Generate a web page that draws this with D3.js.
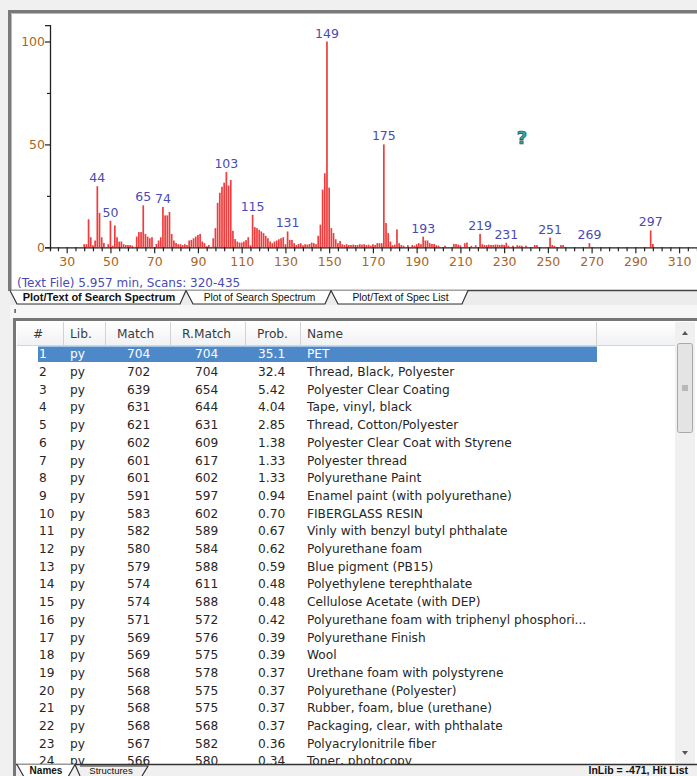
<!DOCTYPE html>
<html>
<head>
<meta charset="utf-8">
<script src="https://cdn.jsdelivr.net/npm/d3@7"></script>
<style>
  html, body { margin: 0; padding: 0; background: #f0f0f0; }
  svg { display: block; }
</style>
</head>
<body>
<svg id="view" width="697" height="776"></svg>
<script>
// ---- search spectrum (m/z, relative abundance %) ----
const massValues = [
  38, 39, 40, 41, 42, 43, 44, 45, 46, 47, 49, 50, 51, 52, 53, 54, 55, 56, 57, 58, 59, 60,
  62, 63, 64, 65, 66, 67, 68, 69, 71, 72, 73, 74, 75, 76, 77, 78, 79, 80, 81, 82, 83, 84, 85,
  86, 87, 88, 89, 90, 91, 92, 93, 94, 95, 97, 98, 99, 100, 101, 102, 103, 104, 105, 106, 107,
  108, 109, 110, 111, 112, 113, 114, 115, 116, 117, 118, 119, 120, 121, 122, 123, 124, 125,
  126, 127, 128, 129, 130, 131, 132, 133, 134, 135, 136, 137, 138, 139, 140, 141, 142, 143,
  144, 145, 146, 147, 148, 149, 150, 151, 152, 153, 154, 155, 156, 157, 158, 159, 160, 161,
  162, 163, 164, 165, 166, 167, 168, 169, 170, 171, 172, 173, 174, 175, 176, 177, 178, 179,
  180, 181, 182, 183, 184, 186, 188, 189, 190, 191, 192, 193, 194, 195, 196, 197, 198, 199,
  200, 203, 207, 208, 209, 210, 212, 213, 215, 217, 219, 220, 221, 222, 223, 224, 225, 226,
  227, 228, 229, 230, 231, 232, 234, 236, 237, 238, 240, 244, 245, 251, 252, 253, 256, 257,
  269, 297, 298
];
const intensities = [
  1.5, 1.5, 13.6, 4.9, 1.0, 3.3, 29.7, 16.7, 4.9, 2.1, 1.5, 12.9, 0.8, 10.6, 4.9, 2.8, 2.8, 1.5, 1.1, 1.1, 1.1, 0.8,
  5.2, 7.4, 7.4, 20.4, 6.5, 5.2, 4.4, 4.9, 1.6, 3.3, 4.9, 19.6, 15.5, 15.5, 17.2, 6.5, 3.3, 2.1, 1.5, 1.5, 1.1, 1.5, 1.1,
  3.3, 3.6, 4.4, 5.2, 6.0, 6.5, 2.8, 2.0, 0.5, 1.1, 4.4, 9.3, 21.6, 26.5, 29.4, 31.4, 36.6, 30.0, 32.7, 8.0, 4.0,
  2.8, 2.3, 2.3, 2.8, 3.5, 4.9, 1.0, 15.8, 9.8, 9.3, 8.5, 7.7, 6.9, 5.6, 4.4, 2.8, 2.0, 2.8,
  3.3, 3.9, 4.4, 4.9, 1.5, 7.7, 3.6, 3.6, 2.0, 1.1, 1.6, 2.0, 1.0, 1.5, 1.3, 1.6, 2.3, 2.0,
  1.5, 5.6, 11.0, 28.0, 36.0, 100, 29.0, 9.3, 6.9, 3.9, 2.0, 3.1, 1.5, 1.1, 1.5, 1.1, 1.1, 1.3,
  1.1, 1.1, 1.5, 1.3, 1.5, 1.1, 1.3, 0.8, 1.5, 1.1, 2.0, 2.0, 2.0, 50.0, 11.8, 6.9, 2.8, 1.0,
  1.3, 8.7, 2.0, 1.1, 0.8, 1.0, 1.1, 0.8, 1.5, 2.0, 1.5, 5.2, 3.3, 3.3, 2.0, 1.6, 1.6, 1.0,
  0.8, 0.8, 1.6, 1.6, 1.3, 1.0, 2.0, 2.3, 0.7, 1.0, 6.5, 1.5, 1.1, 1.1, 1.3, 1.1, 1.1, 1.3,
  1.3, 1.1, 1.3, 1.1, 2.2, 0.8, 0.8, 1.0, 0.8, 0.8, 0.8, 1.1, 1.1, 4.7, 1.1, 0.7, 1.1, 1.1,
  2.0, 8.2, 1.6
];
const labeledMasses = [44, 50, 65, 74, 103, 115, 131, 149, 175, 193, 219, 231, 251, 269, 297];
const xLabelValues = d3.range(30, 311, 20);
const yLabelValues = [0, 50, 100];
const spectrumInfo = "(Text File) 5.957 min, Scans: 320-435";

// ---- hit list ----
const hitNumbers = ["1","2","3","4","5","6","7","8","9","10","11","12","13","14","15","16","17","18","19","20","21","22","23","24"];
const hitLibs = ["py","py","py","py","py","py","py","py","py","py","py","py","py","py","py","py","py","py","py","py","py","py","py","py"];
const hitMatch = [704, 702, 639, 631, 621, 602, 601, 601, 591, 583, 582, 580, 579, 574, 574, 571, 569, 569, 568, 568, 568, 568, 567, 566];
const hitRMatch = [704, 704, 654, 644, 631, 609, 617, 602, 597, 602, 589, 584, 588, 611, 588, 572, 576, 575, 578, 575, 575, 568, 582, 580];
const hitProb = ["35.1","32.4","5.42","4.04","2.85","1.38","1.33","1.33","0.94","0.70","0.67","0.62","0.59","0.48","0.48","0.42","0.39","0.39","0.37","0.37","0.37","0.37","0.36","0.34"];
const hitNames = [
  "PET",
  "Thread, Black, Polyester",
  "Polyester Clear Coating",
  "Tape, vinyl, black",
  "Thread, Cotton/Polyester",
  "Polyester Clear Coat with Styrene",
  "Polyester thread",
  "Polyurethane Paint",
  "Enamel paint (with polyurethane)",
  "FIBERGLASS RESIN",
  "Vinly with benzyl butyl phthalate",
  "Polyurethane foam",
  "Blue pigment (PB15)",
  "Polyethylene terephthalate",
  "Cellulose Acetate (with DEP)",
  "Polyurethane foam with triphenyl phosphori...",
  "Polyurethane Finish",
  "Wool",
  "Urethane foam with polystyrene",
  "Polyurethane (Polyester)",
  "Rubber, foam, blue (urethane)",
  "Packaging, clear, with phthalate",
  "Polyacrylonitrile fiber",
  "Toner, photocopy"
];
const columnHeaders = ["#", "Lib.", "Match", "R.Match", "Prob.", "Name"];
const spectrumTabs = ["Plot/Text of Search Spectrum", "Plot of Search Spectrum", "Plot/Text of Spec List"];
const listTabs = ["Names", "Structures"];
const statusText = "InLib = -471, Hit List";

// ---------------------------------------------------------------
const svg = d3.select("#view");
const uiFont = "'DejaVu Sans', sans-serif";
const tabFont = "'Liberation Sans', Arial, sans-serif";
const labelBlue = "#4a4ab4";
const axisBrown = "#a8651f";

svg.append("rect").attr("width", 697).attr("height", 776).attr("fill", "#f0f0f0");

// ===== spectrum panel =====
svg.append("rect").attr("x", 11).attr("y", 13).attr("width", 686).attr("height", 277).attr("fill", "#fff");
svg.append("path").attr("d", "M9.5,291 V11.5 H697")
  .attr("fill", "none").attr("stroke", "#7a7a7a").attr("stroke-width", 3);
svg.append("path").attr("d", "M11.5,291 V13.5 H697")
  .attr("fill", "none").attr("stroke", "#b8b8b8").attr("stroke-width", 1);

const x = d3.scaleLinear().domain([30, 310]).range([66.7, 679.1]);
const xAxisScale = d3.scaleLinear().domain([x.invert(50), x.invert(697)]).range([50, 697]);
const y = d3.scaleLinear().domain([0, 100]).range([247.3, 41.5]);

// bars
const spectrum = massValues.map((m, i) => ({ m, v: intensities[i] }));
svg.append("g").selectAll("rect").data(spectrum).join("rect")
  .attr("x", d => x(d.m) - 0.85)
  .attr("width", 1.7)
  .attr("y", d => y(d.v))
  .attr("height", d => y(0) - y(d.v))
  .attr("fill", "#f03c3c");

// x axis
const xTicks = d3.range(26, 318, 4);
const gx = svg.append("g").attr("transform", `translate(0,${y(0)})`)
  .call(d3.axisBottom(xAxisScale).tickValues(xTicks).tickSizeOuter(0).tickSize(4)
    .tickFormat(d => xLabelValues.includes(d) ? d : ""));
gx.select(".domain").attr("stroke", "#222").attr("stroke-width", 1.3);
gx.selectAll(".tick line").attr("stroke", "#222").attr("stroke-width", 1.2)
  .attr("y2", d => xLabelValues.includes(d) ? 6 : 4);
gx.selectAll(".tick text").attr("fill", axisBrown).attr("font-family", uiFont)
  .attr("font-size", 12.5).attr("y", 10);

// y axis
const gy = svg.append("g").attr("transform", "translate(50,0)")
  .call(d3.axisLeft(d3.scaleLinear().domain([0, 108]).range([y(0), y(108)]))
    .tickValues([0, 25, 50, 75, 100]).tickSizeOuter(0).tickSize(5)
    .tickFormat(d => yLabelValues.includes(d) ? d : ""));
gy.select(".domain").attr("stroke", "#222").attr("stroke-width", 1.3);
gy.selectAll(".tick line").attr("stroke", "#222").attr("stroke-width", 1.2)
  .attr("x2", d => yLabelValues.includes(d) ? -5 : -3);
gy.selectAll(".tick text").attr("fill", axisBrown).attr("font-family", uiFont)
  .attr("font-size", 12.5).attr("x", -5);

// peak labels
svg.append("g").selectAll("text").data(labeledMasses).join("text")
  .attr("x", d => x(d))
  .attr("y", d => y(spectrum.find(s => s.m === d).v) - 4)
  .attr("text-anchor", "middle")
  .attr("font-family", uiFont).attr("font-size", 12.5)
  .attr("fill", labelBlue)
  .text(d => d);

// help glyph
svg.append("text").attr("x", 522).attr("y", 144).attr("text-anchor", "middle")
  .attr("font-family", uiFont).attr("font-weight", "bold").attr("font-size", 18)
  .attr("fill", "#3aa4a4").attr("stroke", "#184f4f").attr("stroke-width", 0.7)
  .text("?");

// spectrum info line
svg.append("text").attr("x", 17).attr("y", 286.5)
  .attr("font-family", uiFont).attr("font-size", 12).attr("fill", labelBlue)
  .text(spectrumInfo);

// spectrum tabs
svg.append("rect").attr("x", 10).attr("y", 290).attr("width", 687).attr("height", 15).attr("fill", "#ececec");
svg.append("line").attr("x1", 10).attr("x2", 697).attr("y1", 290.5).attr("y2", 290.5)
  .attr("stroke", "#444").attr("stroke-width", 1.3);
const specTabGeom = [[10, 186], [186, 331], [331, 468]];
specTabGeom.forEach(([a, b]) => {
  svg.append("path")
    .attr("d", `M${a},290.5 L${a + 7},304 L${b - 6},304 L${b},290.5`)
    .attr("fill", "#fff").attr("stroke", "#333").attr("stroke-width", 1.2);
});
specTabGeom.forEach(([a, b], i) => {
  svg.append("text").attr("x", (a + b) / 2 + 1).attr("y", 301)
    .attr("text-anchor", "middle")
    .attr("font-family", tabFont)
    .attr("font-size", i === 0 ? 11 : 10.3)
    .attr("font-weight", i === 0 ? "bold" : "normal")
    .attr("fill", "#111")
    .text(spectrumTabs[i]);
});

// ===== hit list panel =====
svg.append("rect").attr("x", 10).attr("y", 305).attr("width", 687).attr("height", 14).attr("fill", "#f7f7f7");
svg.append("rect").attr("x", 14.5).attr("y", 309).attr("width", 1.2).attr("height", 4).attr("fill", "#333");
svg.append("rect").attr("x", 16).attr("y", 321).attr("width", 681).attr("height", 443).attr("fill", "#fff");
svg.append("path").attr("d", "M14.5,776 V319.5 H697")
  .attr("fill", "none").attr("stroke", "#777").attr("stroke-width", 3);

// header
const colEdges = [17, 63, 105, 170, 245, 300, 596, 675];
const headerGrad = svg.append("defs").append("linearGradient").attr("id", "hdr")
  .attr("x1", 0).attr("x2", 0).attr("y1", 0).attr("y2", 1);
headerGrad.append("stop").attr("offset", 0).attr("stop-color", "#ffffff");
headerGrad.append("stop").attr("offset", 1).attr("stop-color", "#f1f2f4");
svg.append("rect").attr("x", 17).attr("y", 322).attr("width", 658).attr("height", 23).attr("fill", "url(#hdr)");
svg.append("line").attr("x1", 17).attr("x2", 675).attr("y1", 345.5).attr("y2", 345.5).attr("stroke", "#d5d5d5");
svg.append("g").selectAll("line").data(colEdges.slice(1)).join("line")
  .attr("x1", d => d + 0.5).attr("x2", d => d + 0.5).attr("y1", 322).attr("y2", 345)
  .attr("stroke", "#d2d2d2");
const headerX = [33, 70, 117, 182, 257, 307];
svg.append("g").selectAll("text").data(columnHeaders).join("text")
  .attr("x", (d, i) => headerX[i]).attr("y", 338)
  .attr("font-family", uiFont).attr("font-size", 12.2).attr("fill", "#3a3a3a")
  .text(d => d);

// rows
const rowY = d3.scaleLinear().domain([0, 1]).range([354, 371.7]);
const clip = svg.append("defs").append("clipPath").attr("id", "rowsClip");
clip.append("rect").attr("x", 17).attr("y", 346).attr("width", 658).attr("height", 418);
const rowsG = svg.append("g").attr("clip-path", "url(#rowsClip)");
rowsG.append("rect").attr("x", 38).attr("y", 346.5).attr("width", 559).attr("height", 15.5)
  .attr("fill", "#4d88c8");
const cellX = [39, 70, 127, 195, 258, 307];
hitNames.forEach((name, i) => {
  const cells = [hitNumbers[i], hitLibs[i], hitMatch[i], hitRMatch[i], hitProb[i], name];
  rowsG.append("g").selectAll("text").data(cells).join("text")
    .attr("x", (d, j) => cellX[j]).attr("y", rowY(i) + 4.3)
    .attr("font-family", uiFont).attr("font-size", 12.2)
    .attr("fill", i === 0 ? "#ffffff" : "#262626")
    .text(d => d);
});

// scrollbar
svg.append("rect").attr("x", 675).attr("y", 322).attr("width", 20).attr("height", 442).attr("fill", "#f0f0f0");
svg.append("rect").attr("x", 677.5).attr("y", 343.5).attr("width", 15).attr("height", 89).attr("rx", 2)
  .attr("fill", "#e4e4e4").attr("stroke", "#a9a9a9");
[-2, 0, 2].forEach(dy => {
  svg.append("line").attr("x1", 682).attr("x2", 688).attr("y1", 388 + dy).attr("y2", 388 + dy)
    .attr("stroke", "#777").attr("stroke-width", 0.8);
});
svg.append("path").attr("d", "M682,335 L685,331 L688,335 Z").attr("fill", "#555");
svg.append("path").attr("d", "M682,751 L685,755 L688,751 Z").attr("fill", "#555");

// list tabs + status
svg.append("rect").attr("x", 16).attr("y", 764).attr("width", 681).attr("height", 12).attr("fill", "#f0f0f0");
svg.append("line").attr("x1", 16).attr("x2", 697).attr("y1", 764.5).attr("y2", 764.5)
  .attr("stroke", "#333").attr("stroke-width", 1.3);
svg.append("path").attr("d", "M17,764.5 L24,777 L68,777 L75,764.5")
  .attr("fill", "#fff").attr("stroke", "#333").attr("stroke-width", 1.2);
svg.append("path").attr("d", "M75,764.5 L80,776 M142,776 L148,766 L80,766")
  .attr("fill", "none").attr("stroke", "#333").attr("stroke-width", 1.2);
svg.append("text").attr("x", 46).attr("y", 773.8).attr("text-anchor", "middle")
  .attr("font-family", tabFont).attr("font-size", 10).attr("font-weight", "bold").attr("fill", "#111")
  .text(listTabs[0]);
svg.append("text").attr("x", 111).attr("y", 773.5).attr("text-anchor", "middle")
  .attr("font-family", tabFont).attr("font-size", 9.5).attr("fill", "#111")
  .text(listTabs[1]);
svg.append("text").attr("x", 688).attr("y", 774).attr("text-anchor", "end")
  .attr("font-family", tabFont).attr("font-size", 10.5).attr("font-weight", "bold").attr("fill", "#111")
  .text(statusText);
</script>
</body>
</html>
